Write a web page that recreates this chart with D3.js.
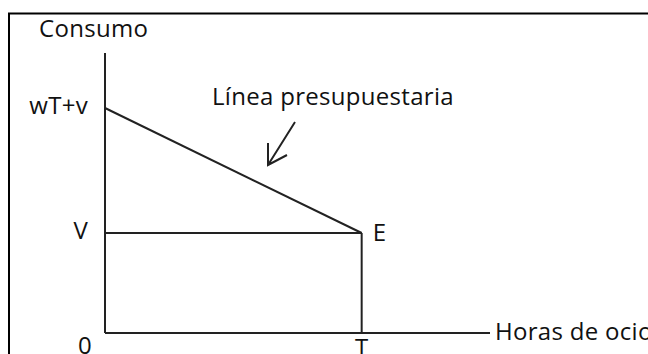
<!DOCTYPE html>
<html>
<head>
<meta charset="utf-8">
<script src="https://cdn.jsdelivr.net/npm/d3@7"></script>
<style>
  html, body { margin: 0; padding: 0; background: #fff; overflow: hidden; }
  svg text { font-family: "Open Sans", "DejaVu Sans", sans-serif; font-size: 24px; fill: #111; letter-spacing: 0.3px; }
</style>
</head>
<body>
<svg id="chart" width="648" height="354"></svg>
<script>
// ---- data ----
const xLabels = ["T"];            // tick labels on the horizontal axis
const xValues = [1];              // T (normalised)
const yLabels = ["V", "wT+v"];    // tick labels on the vertical axis
const yValues = [1, 2.25];        // V and wT+v (normalised)
const budgetX = [0, 1];           // budget line: leisure 0 .. T
const budgetY = [2.25, 1];        // consumption wT+v .. V
const floorX = [0, 1];            // non-labour income segment V
const floorY = [1, 1];
const pointE = { label: "E", x: 1, y: 1 };
const axisNames = { y: "Consumo", x: "Horas de ocio" };
const annotation = "Línea presupuestaria";
const xMax = 1.5, yMax = 2.8;

// ---- layout ----
const svg = d3.select("#chart");
const x = d3.scaleLinear().domain([0, xMax]).range([105, 490]);
const y = d3.scaleLinear().domain([0, yMax]).range([333, 53]);
const stroke = "#222";

// frame (top and left border)
svg.append("path").attr("d", "M9,355 L9,13.5 L649,13.5")
  .attr("fill", "none").attr("stroke", "#000").attr("stroke-width", 2);

// axes
svg.append("line").attr("x1", x(0)).attr("x2", x(0)).attr("y1", y(0)).attr("y2", y(yMax))
  .attr("stroke", stroke).attr("stroke-width", 2);
svg.append("line").attr("x1", x(0)).attr("x2", x(xMax)).attr("y1", y(0)).attr("y2", y(0))
  .attr("stroke", stroke).attr("stroke-width", 2);

const line = d3.line().x(d => x(d[0])).y(d => y(d[1]));
svg.append("path").attr("d", line(d3.zip(budgetX, budgetY)))
  .attr("fill", "none").attr("stroke", stroke).attr("stroke-width", 2);
svg.append("path").attr("d", line(d3.zip(floorX, floorY)))
  .attr("fill", "none").attr("stroke", stroke).attr("stroke-width", 2);
svg.append("path").attr("d", line([[pointE.x, pointE.y], [pointE.x, 0]]))
  .attr("fill", "none").attr("stroke", stroke).attr("stroke-width", 2);

// y tick labels
svg.selectAll(".ylab").data(d3.zip(yLabels, yValues)).join("text")
  .attr("class", "ylab").attr("text-anchor", "end")
  .attr("x", x(0) - 17).attr("y", d => y(d[1]) + 6).text(d => d[0]);

// x tick labels
svg.selectAll(".xlab").data(d3.zip(xLabels, xValues)).join("text")
  .attr("class", "xlab").attr("text-anchor", "middle")
  .attr("x", d => x(d[1])).attr("y", y(0) + 23).text(d => d[0]);
// origin
svg.append("text").attr("text-anchor", "middle").attr("x", x(0) - 20).attr("y", y(0) + 21).text("0");

// E label
svg.append("text").attr("x", x(pointE.x) + 11).attr("y", y(pointE.y) + 8).text(pointE.label);

// axis names
svg.append("text").attr("x", 39).attr("y", 37).text(axisNames.y);
svg.append("text").attr("x", x(xMax) + 5).attr("y", y(0) + 7).text(axisNames.x);

// annotation + arrow
svg.append("text").attr("x", 212).attr("y", 105).text(annotation);
svg.append("path").attr("d", "M295,122 L268,165 M268,143 L268,165 L287,155")
  .attr("fill", "none").attr("stroke", stroke).attr("stroke-width", 2);
</script>
</body>
</html>
